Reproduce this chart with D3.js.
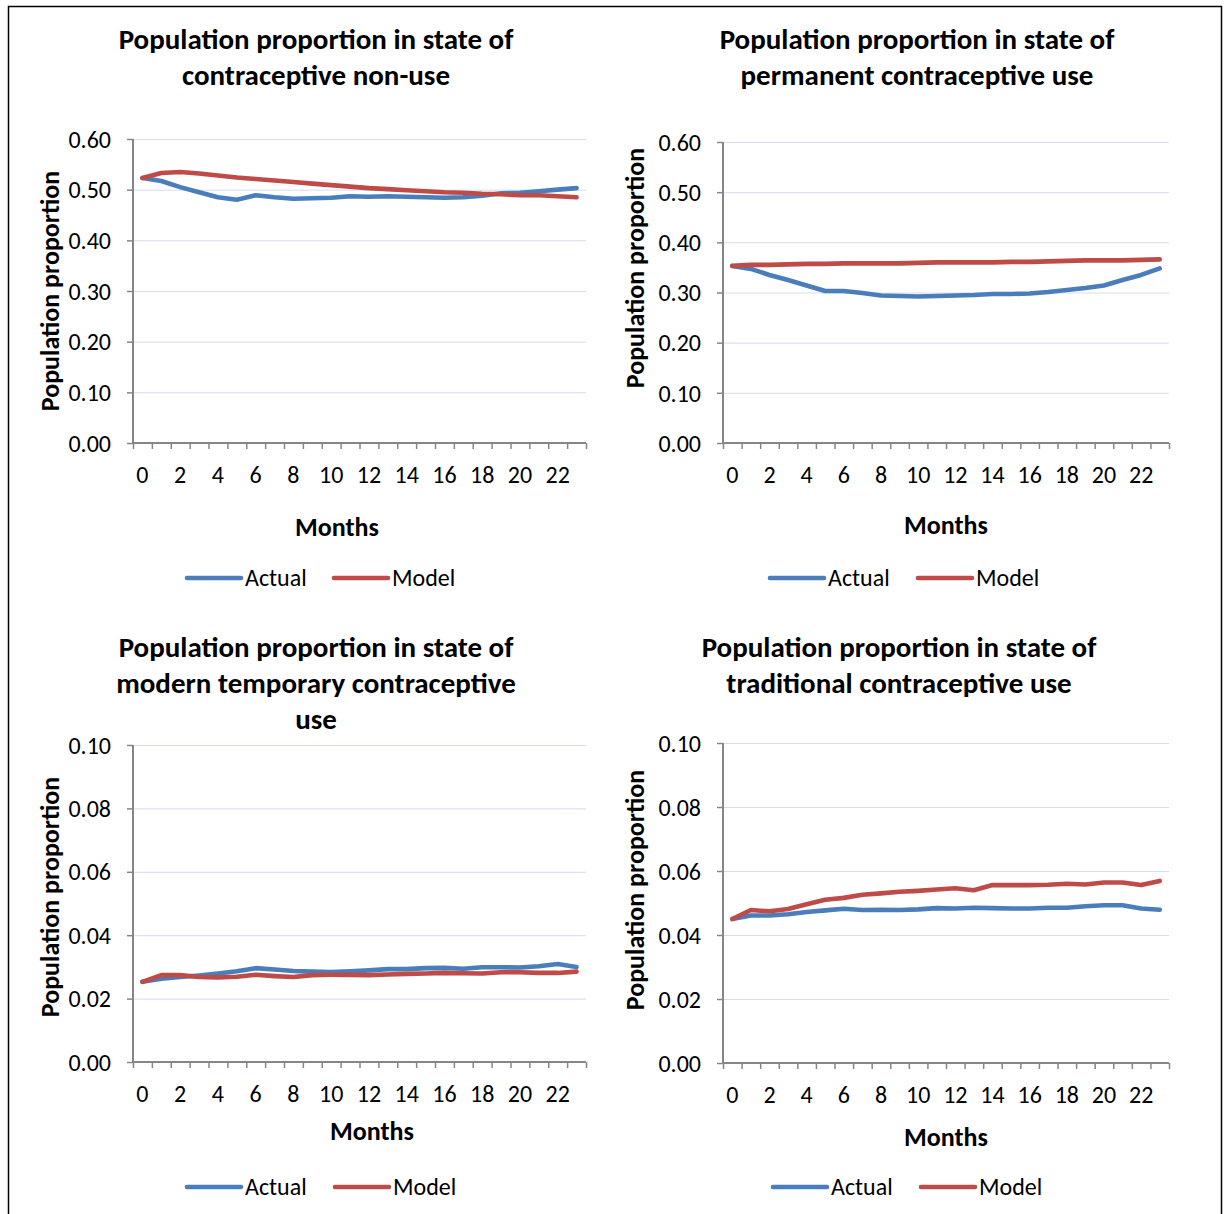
<!DOCTYPE html>
<html>
<head>
<meta charset="utf-8">
<script src="https://cdn.jsdelivr.net/npm/d3@7"></script>
<style>
  body { margin: 0; background: #fff; }
  text { font-family: Carlito, Lato, "Open Sans", sans-serif; fill: #000; }
</style>
</head>
<body>
<div id="chart"></div>
<script>
// months on the category axis
var months = [0,1,2,3,4,5,6,7,8,9,10,11,12,13,14,15,16,17,18,19,20,21,22,23];
var monthLabels = [0,2,4,6,8,10,12,14,16,18,20,22];

// series values
var nonUseActual = [0.523,0.517,0.505,0.495,0.485,0.480,0.489,0.485,0.482,0.483,0.484,0.487,
                    0.486,0.487,0.486,0.485,0.484,0.485,0.488,0.493,0.494,0.497,0.500,0.503];
var nonUseModel  = [0.523,0.533,0.535,0.532,0.528,0.524,0.521,0.518,0.515,0.512,0.509,0.506,
                    0.503,0.501,0.499,0.497,0.495,0.494,0.492,0.491,0.489,0.489,0.487,0.485];
var permActual   = [0.353,0.347,0.335,0.325,0.314,0.303,0.303,0.299,0.294,0.293,0.292,0.293,
                    0.294,0.295,0.297,0.297,0.298,0.301,0.305,0.309,0.314,0.325,0.335,0.348];
var permModel    = [0.353,0.355,0.355,0.356,0.357,0.357,0.358,0.358,0.358,0.358,0.359,0.360,
                    0.360,0.360,0.360,0.361,0.361,0.362,0.363,0.364,0.364,0.364,0.365,0.366];
var modernActual = [0.0253,0.0263,0.0268,0.0273,0.0279,0.0286,0.0296,0.0292,0.0287,0.0285,0.0284,0.0286,
                    0.0289,0.0293,0.0293,0.0296,0.0297,0.0294,0.0299,0.0299,0.0298,0.0302,0.0309,0.0300];
var modernModel  = [0.0253,0.0274,0.0274,0.0268,0.0267,0.0269,0.0275,0.0271,0.0268,0.0274,0.0275,0.0275,
                    0.0274,0.0276,0.0278,0.0279,0.0281,0.0280,0.0279,0.0283,0.0283,0.0281,0.0281,0.0285];
var tradActual   = [0.0450,0.0461,0.0461,0.0465,0.0472,0.0477,0.0482,0.0478,0.0479,0.0478,0.0480,0.0484,
                    0.0483,0.0485,0.0484,0.0483,0.0483,0.0485,0.0485,0.0490,0.0493,0.0493,0.0483,0.0479];
var tradModel    = [0.0450,0.0478,0.0474,0.0481,0.0496,0.0510,0.0516,0.0526,0.0530,0.0535,0.0538,0.0542,
                    0.0546,0.0540,0.0556,0.0556,0.0556,0.0557,0.0560,0.0558,0.0564,0.0564,0.0556,0.0569];

var ticksLarge = [0, 0.1, 0.2, 0.3, 0.4, 0.5, 0.6];
var ticksSmall = [0, 0.02, 0.04, 0.06, 0.08, 0.1];

var titles = [
  ["Population proportion in state of", "contraceptive non-use"],
  ["Population proportion in state of", "permanent contraceptive use"],
  ["Population proportion in state of", "modern temporary contraceptive", "use"],
  ["Population proportion in state of", "traditional contraceptive use"]
];
var seriesNames = ["Actual", "Model"];
var colors = ["#4a7ebb", "#be4b48"];

// layout of the four panels
var panels = [
  {actual: nonUseActual, model: nonUseModel, ticks: ticksLarge, fmt: ".2f", title: titles[0],
   left: 133, right: 586, top: 139, bottom: 443, titleX: 316, titleY: 40,
   yTitleX: 50, yTitleY: 291, monthsX: 337, monthsY: 527, legendX: 187, legendY: 578, legendGap: 147},
  {actual: permActual, model: permModel, ticks: ticksLarge, fmt: ".2f", title: titles[1],
   left: 723, right: 1169, top: 142, bottom: 443, titleX: 917, titleY: 40,
   yTitleX: 635, yTitleY: 268, monthsX: 946, monthsY: 525, legendX: 770, legendY: 578, legendGap: 148},
  {actual: modernActual, model: modernModel, ticks: ticksSmall, fmt: ".2f", title: titles[2],
   left: 133, right: 586, top: 745, bottom: 1062, titleX: 316, titleY: 648,
   yTitleX: 50, yTitleY: 897, monthsX: 372, monthsY: 1131, legendX: 187, legendY: 1187, legendGap: 148},
  {actual: tradActual, model: tradModel, ticks: ticksSmall, fmt: ".2f", title: titles[3],
   left: 723, right: 1169, top: 743, bottom: 1063, titleX: 899, titleY: 648,
   yTitleX: 635, yTitleY: 890, monthsX: 946, monthsY: 1137, legendX: 773, legendY: 1187, legendGap: 148}
];

var svg = d3.select("#chart").append("svg")
  .attr("width", 1225)
  .attr("height", 1214);

// outer frame
svg.append("rect")
  .attr("x", 8.5).attr("y", 6.5)
  .attr("width", 1213).attr("height", 1220)
  .attr("fill", "none")
  .attr("stroke", "#000")
  .attr("stroke-width", 1.5);

panels.forEach(function(p) {
  var g = svg.append("g");

  var x = d3.scaleBand().domain(months).range([p.left, p.right]);
  var xEdge = d3.scaleLinear().domain([0, months.length]).range([p.left, p.right]);
  var y = d3.scaleLinear().domain([0, d3.max(p.ticks)]).range([p.bottom, p.top]);

  // gridlines
  g.append("g")
    .attr("transform", "translate(" + p.left + ",0)")
    .call(d3.axisLeft(y).tickValues(p.ticks.slice(1)).tickSize(-(p.right - p.left)).tickFormat(""))
    .call(function(s) {
      s.select(".domain").remove();
      s.selectAll("line").attr("stroke", "#d3ddef").attr("stroke-width", 1);
    });

  // y axis
  g.append("g")
    .attr("transform", "translate(" + p.left + ",0)")
    .call(d3.axisLeft(y).tickValues(p.ticks).tickSize(6).tickPadding(16).tickFormat(d3.format(p.fmt)))
    .call(function(s) {
      s.select(".domain").attr("stroke", "#868686").attr("stroke-width", 2).attr("d", "M0," + p.top + "V" + p.bottom);
      s.selectAll("line").attr("stroke", "#868686").attr("stroke-width", 1.5);
      s.selectAll("text").style("font-size", "24px").attr("dy", "0.34em");
    });

  // x axis tick marks at category edges
  g.append("g")
    .attr("transform", "translate(0," + p.bottom + ")")
    .call(d3.axisBottom(xEdge).tickValues(d3.range(months.length + 1)).tickSize(6).tickFormat(""))
    .call(function(s) {
      s.select(".domain").attr("stroke", "#868686").attr("stroke-width", 2).attr("d", "M" + p.left + ",0H" + p.right);
      s.selectAll("line").attr("stroke", "#868686").attr("stroke-width", 1.5);
    });

  // x labels
  g.append("g")
    .attr("transform", "translate(0," + p.bottom + ")")
    .call(d3.axisBottom(x).tickValues(monthLabels).tickSize(0).tickPadding(23))
    .call(function(s) {
      s.select(".domain").remove();
      s.selectAll("text").style("font-size", "24px");
    });

  var line = d3.line()
    .x(function(d, i) { return x(months[i]) + x.bandwidth() / 2; })
    .y(function(d) { return y(d); });

  [p.actual, p.model].forEach(function(vals, k) {
    g.append("path")
      .datum(vals)
      .attr("d", line)
      .attr("fill", "none")
      .attr("stroke", colors[k])
      .attr("stroke-width", 4.6)
      .attr("stroke-linejoin", "round")
      .attr("stroke-linecap", "round");
  });

  // title
  var t = g.append("text")
    .attr("text-anchor", "middle")
    .style("font-size", "29px")
    .style("font-weight", "bold");
  p.title.forEach(function(s, i) {
    t.append("tspan").attr("x", p.titleX).attr("y", p.titleY + i * 36).attr("dy", "0.32em").text(s);
  });

  // axis titles
  g.append("text")
    .attr("transform", "translate(" + p.yTitleX + "," + p.yTitleY + ") rotate(-90)")
    .attr("text-anchor", "middle")
    .attr("dy", "0.35em")
    .style("font-size", "26px")
    .style("font-weight", "bold")
    .text("Population proportion");

  g.append("text")
    .attr("x", p.monthsX).attr("y", p.monthsY)
    .attr("dy", "0.35em")
    .attr("text-anchor", "middle")
    .style("font-size", "26px")
    .style("font-weight", "bold")
    .text("Months");

  // legend
  seriesNames.forEach(function(name, k) {
    var lx = p.legendX + k * p.legendGap;
    g.append("line")
      .attr("x1", lx).attr("x2", lx + 54)
      .attr("y1", p.legendY).attr("y2", p.legendY)
      .attr("stroke", colors[k]).attr("stroke-width", 4.6).attr("stroke-linecap", "round");
    g.append("text")
      .attr("x", lx + 58).attr("y", p.legendY)
      .attr("dy", "0.35em")
      .style("font-size", "24px")
      .text(name);
  });
});
</script>
</body>
</html>
